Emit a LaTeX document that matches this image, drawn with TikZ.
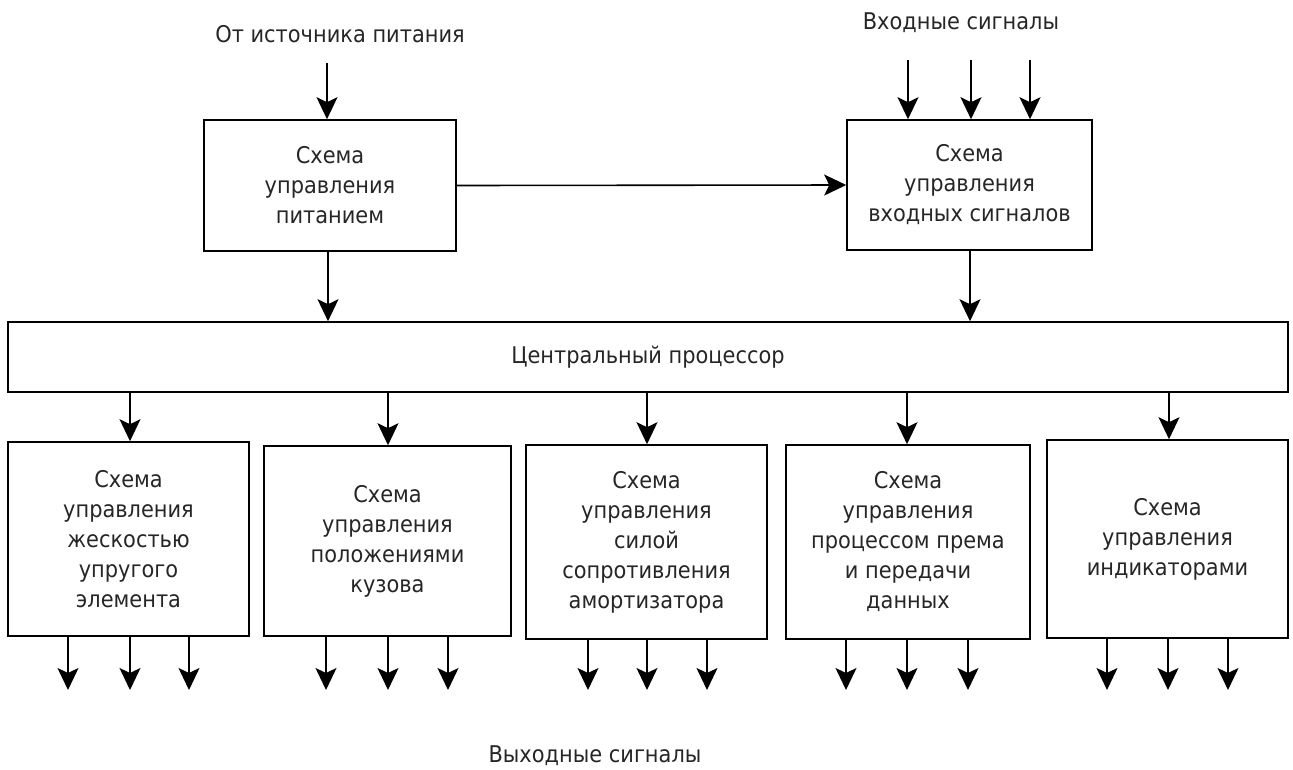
\documentclass[tikz,border=0pt]{standalone}
\usepackage{fontspec}
\setmainfont{DejaVu Sans}[FakeStretch=0.91]
\usetikzlibrary{arrows.meta}
\begin{document}
\begin{tikzpicture}[x=1pt,y=-1pt,
  font=\fontsize{23}{30}\selectfont,
  blk/.style={draw, line width=1.6pt, align=center, inner sep=0pt, text=black!85},
  lbl/.style={anchor=base, inner sep=0pt, text=black!85},
  arr/.style={line width=1.6pt, -{Stealth[length=22pt,width=21pt,inset=5pt]}}]
\useasboundingbox (0,0) rectangle (1293,769);

% top row
\node[blk, minimum width=252pt, minimum height=131pt] (pwr) at (330,185.5)
  {Схема\\управления\\питанием};
\node[blk, minimum width=245pt, minimum height=130pt] (ins) at (969.5,185)
  {Схема\\управления\\входных сигналов};

% central processor
\node[blk, minimum width=1280pt, minimum height=70pt] (cpu) at (648,357)
  {Центральный процессор};

% bottom row
\node[blk, minimum width=241pt, minimum height=194pt] (b1) at (128.5,539)
  {Схема\\управления\\жескостью\\упругого\\элемента};
\node[blk, minimum width=247pt, minimum height=190pt] (b2) at (387.5,541)
  {Схема\\управления\\положениями\\кузова};
\node[blk, minimum width=241pt, minimum height=194pt] (b3) at (646.5,542)
  {Схема\\управления\\силой\\сопротивления\\амортизатора};
\node[blk, minimum width=244pt, minimum height=194pt] (b4) at (908,542)
  {Схема\\управления\\процессом према\\и передачи\\данных};
\node[blk, minimum width=241pt, minimum height=198pt] (b5) at (1167.5,539)
  {Схема\\управления\\индикаторами};

% labels
\node[lbl] (src) at (340,42) {От источника питания};
\node[lbl] (insig) at (961,29) {Входные сигналы};
\node[lbl] (outsig) at (595,762) {Выходные сигналы};

% power input and power to input-signal block
\coordinate (s0) at (327,63);
\draw[arr] (s0) -- (s0 |- pwr.north);
\draw[arr] (pwr.east) -- (ins.west);

% input signals
\foreach \x [count=\i] in {908,971,1030} {
  \coordinate (in\i) at (\x,60);
  \draw[arr] (in\i) -- (in\i |- ins.north);
}

% top blocks to processor
\coordinate (ka) at (328,0);
\coordinate (kb) at (970,0);
\draw[arr] (pwr.south -| ka) -- (cpu.north -| ka);
\draw[arr] (ins.south -| kb) -- (cpu.north -| kb);

% processor to bottom blocks
\foreach \x/\b in {130/b1,388/b2,647/b3,907/b4,1169/b5} {
  \coordinate (k\b) at (\x,0);
  \draw[arr] (cpu.south -| k\b) -- (\b.north -| k\b);
}

% output signals
\foreach \b/\xa/\xb/\xc in {b1/68/130/189, b2/326/388/448, b3/588/647/707,
                             b4/846/907/968, b5/1107/1168/1228} {
  \foreach \x [count=\j] in {\xa,\xb,\xc} {
    \coordinate (o\b\j) at (\x,690);
    \draw[arr] (\b.south -| o\b\j) -- (o\b\j);
  }
}
\end{tikzpicture}
\end{document}
